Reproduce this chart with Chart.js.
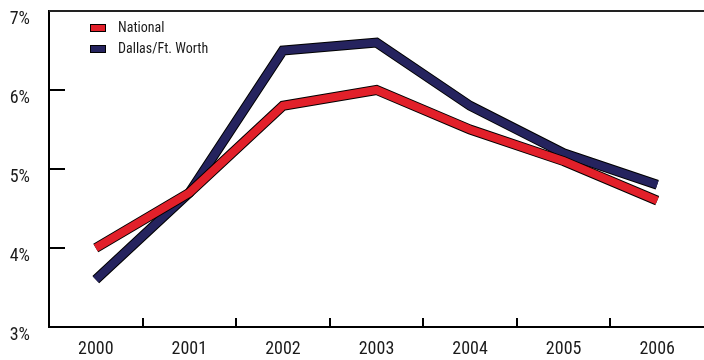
<!DOCTYPE html>
<html>
<head>
<meta charset="utf-8">
<script src="https://cdn.jsdelivr.net/npm/chart.js@4/dist/chart.umd.min.js"></script>
<style>
  html, body { margin: 0; padding: 0; background: #fff; }
  #wrap { width: 704px; height: 360px; }
</style>
</head>
<body>
<div id="wrap"><canvas id="rateChart" width="704" height="360"></canvas></div>
<script>
const years = ["2000", "2001", "2002", "2003", "2004", "2005", "2006"];
const national = [4.0, 4.7, 5.8, 6.0, 5.5, 5.1, 4.6];
const dallas = [3.6, 4.7, 6.5, 6.6, 5.8, 5.2, 4.8];
const yTicks = [3, 4, 5, 6, 7];

const RED = "#e2202a";
const NAVY = "#25235e";
const FONT = "'Roboto Condensed', 'Liberation Sans', sans-serif";

// each line gets a black outline drawn just beneath it
function lineSet(label, values, color, outline) {
    return {
        label: label,
        data: values,
        borderColor: outline ? "#000" : color,
        backgroundColor: color,
        borderWidth: outline ? 10 : 8,
        borderJoinStyle: "miter",
        borderCapStyle: "butt",
        pointRadius: 0,
        tension: 0,
        fill: false,
        clip: false,
        isOutline: outline
    };
}

// inward tick marks, top rule and the small legend
const axisExtras = {
    id: "axisExtras",
    afterDraw(chart) {
        const ctx = chart.ctx;
        const area = chart.chartArea;
        const x = chart.scales.x;
        const y = chart.scales.y;
        ctx.save();
        ctx.strokeStyle = "#000";
        ctx.lineWidth = 2;
        yTicks.slice(1, -1).forEach(v => {
            const py = Math.round(y.getPixelForValue(v));
            ctx.beginPath();
            ctx.moveTo(area.left, py);
            ctx.lineTo(area.left + 16, py);
            ctx.stroke();
        });
        for (let i = 0; i < years.length - 1; i++) {
            const px = Math.round((x.getPixelForValue(i) + x.getPixelForValue(i + 1)) / 2);
            ctx.beginPath();
            ctx.moveTo(px, area.bottom);
            ctx.lineTo(px, area.bottom - 9);
            ctx.stroke();
        }
        ctx.strokeStyle = "#222";
        const top = Math.round(y.getPixelForValue(7));
        ctx.beginPath();
        ctx.moveTo(area.left, top);
        ctx.lineTo(chart.width, top);
        ctx.stroke();

        // legend
        ctx.font = "14px " + FONT;
        ctx.textBaseline = "middle";
        let ly = 28;
        chart.data.datasets.filter(d => !d.isOutline).forEach(d => {
            ctx.fillStyle = d.backgroundColor;
            ctx.fillRect(91, ly - 3, 14, 6);
            ctx.lineWidth = 1;
            ctx.strokeStyle = "#000";
            ctx.strokeRect(90.5, ly - 3.5, 15, 7);
            ctx.fillStyle = "#1a1a1a";
            ctx.fillText(d.label, 118, ly);
            ly += 21;
        });
        ctx.restore();
    }
};

new Chart(document.getElementById("rateChart"), {
    type: "line",
    data: {
        labels: years,
        datasets: [
            lineSet("National", national, RED, false),
            lineSet("National", national, RED, true),
            lineSet("Dallas/Ft. Worth", dallas, NAVY, false),
            lineSet("Dallas/Ft. Worth", dallas, NAVY, true)
        ]
    },
    options: {
        responsive: false,
        animation: false,
        layout: { padding: { top: 11, right: 0, left: 0, bottom: 0 } },
        plugins: {
            legend: { display: false },
            tooltip: { enabled: false }
        },
        scales: {
            x: {
                offset: true,
                grid: { display: false },
                border: { display: true, color: "#000", width: 2 },
                ticks: {
                    color: "#1a1a1a",
                    padding: 4,
                    font: { family: FONT, size: 18 }
                },
                afterFit(scale) {
                    scale.height = 33;
                    scale.paddingLeft = 0;
                    scale.paddingRight = 0;
                }
            },
            y: {
                min: 3,
                max: 7,
                grid: { display: false },
                border: { display: true, color: "#000", width: 2 },
                afterBuildTicks(scale) { scale.ticks = yTicks.map(v => ({ value: v })); },
                ticks: {
                    color: "#1a1a1a",
                    padding: 11,
                    labelOffset: 8,
                    font: { family: FONT, size: 18 },
                    callback: v => v + "%"
                },
                afterFit(scale) {
                    scale.width = 49;
                    scale.paddingTop = 0;
                    scale.paddingBottom = 0;
                }
            }
        }
    },
    plugins: [axisExtras]
});
</script>
</body>
</html>
